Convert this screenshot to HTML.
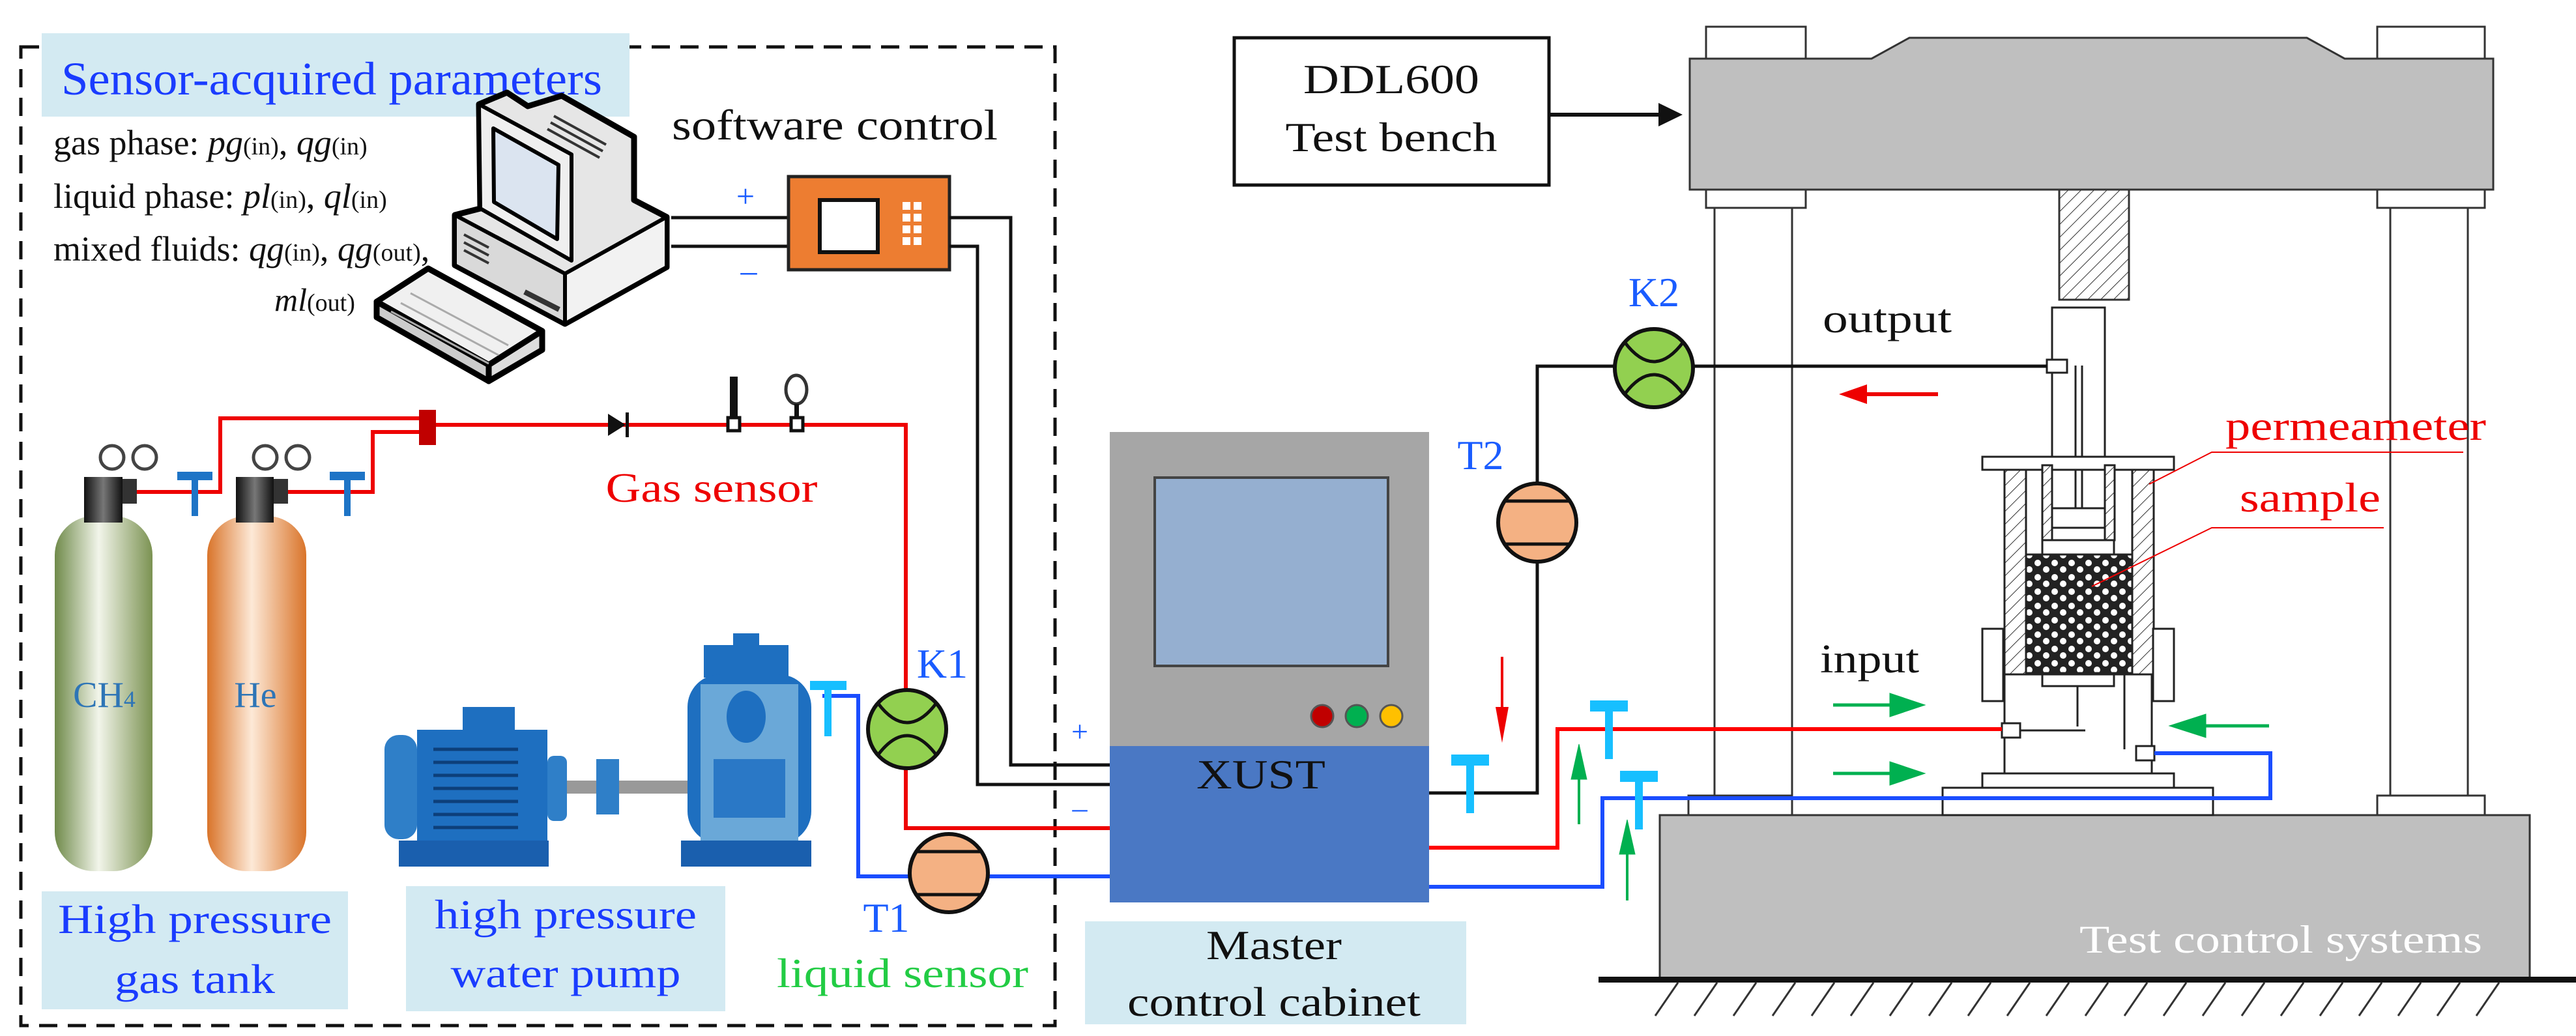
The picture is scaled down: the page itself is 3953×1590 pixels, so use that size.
<!DOCTYPE html>
<html><head><meta charset="utf-8"><style>html,body{margin:0;padding:0;background:#fff}svg{display:block}text{font-family:"Liberation Serif","Times New Roman",serif}</style></head><body>
<svg width="3953" height="1590" viewBox="0 0 3953 1590" xmlns="http://www.w3.org/2000/svg">
<defs>
<linearGradient id="gG" x1="0" x2="1"><stop offset="0" stop-color="#6f8a4a"/><stop offset="0.45" stop-color="#f2f5ea"/><stop offset="1" stop-color="#7b9252"/></linearGradient>
<linearGradient id="gO" x1="0" x2="1"><stop offset="0" stop-color="#d9742a"/><stop offset="0.45" stop-color="#fde9d7"/><stop offset="1" stop-color="#d9742a"/></linearGradient>
<linearGradient id="gN" x1="0" x2="1"><stop offset="0" stop-color="#111"/><stop offset="0.5" stop-color="#777"/><stop offset="1" stop-color="#111"/></linearGradient>
<pattern id="hat" width="14" height="14" patternUnits="userSpaceOnUse" patternTransform="rotate(45)"><rect width="14" height="14" fill="#fff"/><line x1="0" y1="0" x2="0" y2="14" stroke="#333" stroke-width="2"/></pattern>
<pattern id="smp" width="26" height="22" patternUnits="userSpaceOnUse"><rect width="26" height="22" fill="#222"/><circle cx="7" cy="6" r="5" fill="#fff"/><circle cx="20" cy="16" r="5" fill="#fff"/></pattern>
<g id="kmeter"><circle r="60" fill="#92d050" stroke="#111" stroke-width="6"/><path d="M-45,-40 Q0,20 45,-40 M-45,40 Q0,-20 45,40" fill="none" stroke="#111" stroke-width="5"/></g>
<g id="tmeter"><circle r="60" fill="#f4b183" stroke="#111" stroke-width="6"/><path d="M-50,-33 H50 M-50,33 H50" stroke="#111" stroke-width="5"/></g>
</defs>

<rect x="32" y="72" width="1587" height="1502" fill="none" stroke="#111" stroke-width="5" stroke-dasharray="28,16"/>

<rect x="64" y="51" width="902" height="128" fill="#d3eaf2"/>
<rect x="64" y="1368" width="470" height="181" fill="#d3eaf2"/>
<rect x="623" y="1360" width="490" height="192" fill="#d3eaf2"/>
<rect x="1665" y="1414" width="585" height="158" fill="#d3eaf2"/>

<text x="94" y="145" font-size="72" fill="#1a3cff" textLength="830" lengthAdjust="spacingAndGlyphs">Sensor-acquired parameters</text>
<text x="82" y="237" font-size="54" fill="#111">gas phase: <tspan font-style="italic">pg</tspan><tspan font-size="38">(in)</tspan>, <tspan font-style="italic">qg</tspan><tspan font-size="38">(in)</tspan></text>
<text x="82" y="319" font-size="54" fill="#111">liquid phase: <tspan font-style="italic">pl</tspan><tspan font-size="38">(in)</tspan>, <tspan font-style="italic">ql</tspan><tspan font-size="38">(in)</tspan></text>
<text x="82" y="400" font-size="54" fill="#111">mixed fluids: <tspan font-style="italic">qg</tspan><tspan font-size="38">(in)</tspan>, <tspan font-style="italic">qg</tspan><tspan font-size="38">(out)</tspan>,</text>
<text x="421" y="477" font-size="50" fill="#111"><tspan font-style="italic">ml</tspan><tspan font-size="38">(out)</tspan></text>
<text x="1031" y="214" font-size="66" fill="#111" textLength="500" lengthAdjust="spacingAndGlyphs">software control</text>

<!-- computer -->
<g stroke="#000" stroke-width="9" stroke-linejoin="round">
<polygon points="735,160 778,142 810,163 862,147 973,210 973,307 1023,333 1023,410 867,497 698,407 698,330 737,320" fill="#e6e6e6"/>
<polygon points="698,330 867,420 867,497 698,407" fill="#d9d9d9" stroke-width="6"/>
<polygon points="867,420 1023,333 1023,410 867,497" fill="#f2f2f2" stroke-width="6"/>
<polygon points="735,160 877,237 877,400 737,320" fill="#efefef" stroke-width="6"/>
<polygon points="757,197 857,253 855,367 758,310" fill="#dbe4f0" stroke-width="6"/>
<polygon points="578,463 657,412 832,508 750,560" fill="#f0f0f0"/>
<polygon points="578,463 750,560 750,585 578,487" fill="#ccc"/>
<polygon points="750,560 832,508 832,537 750,585" fill="#ddd"/>
</g>
<g stroke="#333" stroke-width="4"><line x1="850" y1="178" x2="930" y2="222"/><line x1="845" y1="188" x2="925" y2="232"/><line x1="840" y1="198" x2="920" y2="242"/><line x1="712" y1="360" x2="750" y2="380"/><line x1="712" y1="372" x2="750" y2="392"/><line x1="712" y1="384" x2="750" y2="404"/><line x1="805" y1="448" x2="858" y2="475" stroke-width="8"/></g>
<g stroke="#aaa" stroke-width="3"><line x1="630" y1="450" x2="780" y2="530"/><line x1="615" y1="465" x2="765" y2="545"/><line x1="600" y1="478" x2="750" y2="558"/></g>

<path d="M1030,334 H1210 M1030,378 H1210" stroke="#111" stroke-width="5" fill="none"/>
<rect x="1210" y="271" width="247" height="143" fill="#ed7d31" stroke="#222" stroke-width="5"/>
<rect x="1258" y="307" width="89" height="80" fill="#fff" stroke="#111" stroke-width="6"/>
<g fill="#fff"><rect x="1385" y="310" width="12" height="12"/><rect x="1402" y="310" width="12" height="12"/><rect x="1385" y="328" width="12" height="12"/><rect x="1402" y="328" width="12" height="12"/><rect x="1385" y="346" width="12" height="12"/><rect x="1402" y="346" width="12" height="12"/><rect x="1385" y="364" width="12" height="12"/><rect x="1402" y="364" width="12" height="12"/></g>
<text x="1144" y="318" font-size="50" fill="#1a5cff" text-anchor="middle">+</text>
<text x="1149" y="432" font-size="50" fill="#1a5cff" text-anchor="middle">–</text>
<path d="M1457,334 H1551 V1174 H1703 M1457,378 H1500 V1204 H1703" stroke="#111" stroke-width="5" fill="none"/>
<text x="1657" y="1138" font-size="46" fill="#1a5cff" text-anchor="middle">+</text>
<text x="1657" y="1255" font-size="46" fill="#1a5cff" text-anchor="middle">–</text>

<path d="M205,755 H338 V642 H656 M430,755 H572 V663 H656 M669,652 H1390 V1271 H1703" stroke="#e00" stroke-width="6" fill="none"/>
<rect x="643" y="629" width="26" height="54" fill="#c00000"/>
<polygon points="933,635 933,669 960,652" fill="#111"/><rect x="960" y="633" width="5" height="38" fill="#111"/>
<rect x="1120" y="578" width="12" height="66" fill="#111"/><rect x="1117" y="641" width="18" height="20" fill="#fff" stroke="#111" stroke-width="5"/>
<ellipse cx="1222" cy="598" rx="16" ry="22" fill="#fff" stroke="#333" stroke-width="5"/><rect x="1219" y="620" width="7" height="24" fill="#111"/><rect x="1214" y="641" width="18" height="20" fill="#fff" stroke="#111" stroke-width="5"/>
<text x="1092" y="770" font-size="64" fill="#e00" text-anchor="middle" textLength="325" lengthAdjust="spacingAndGlyphs">Gas sensor</text>

<rect x="84" y="792" width="150" height="545" rx="60" fill="url(#gG)"/>
<rect x="318" y="792" width="152" height="545" rx="60" fill="url(#gO)"/>
<rect x="129" y="732" width="59" height="70" fill="url(#gN)"/>
<rect x="362" y="732" width="58" height="70" fill="url(#gN)"/>
<rect x="188" y="735" width="22" height="38" fill="#333"/><rect x="420" y="735" width="22" height="38" fill="#333"/>
<g fill="none" stroke="#444" stroke-width="5"><circle cx="172" cy="702" r="18"/><circle cx="222" cy="702" r="18"/><circle cx="407" cy="702" r="18"/><circle cx="457" cy="702" r="18"/></g>
<g fill="#1e74c6"><rect x="272" y="724" width="54" height="13"/><rect x="294" y="724" width="10" height="68"/><rect x="506" y="724" width="54" height="13"/><rect x="528" y="724" width="10" height="68"/></g>
<text x="160" y="1085" font-size="56" fill="#2e75b6" text-anchor="middle">CH<tspan font-size="36">4</tspan></text>
<text x="392" y="1085" font-size="56" fill="#2e75b6" text-anchor="middle">He</text>
<text x="299" y="1432" font-size="64" fill="#1a3cff" text-anchor="middle" textLength="420" lengthAdjust="spacingAndGlyphs">High pressure</text>
<text x="299" y="1524" font-size="64" fill="#1a3cff" text-anchor="middle" textLength="246" lengthAdjust="spacingAndGlyphs">gas tank</text>

<rect x="590" y="1128" width="50" height="160" rx="22" fill="#2f7fc8"/>
<rect x="640" y="1120" width="200" height="175" fill="#1e6fc0"/>
<g stroke="#0d3f7a" stroke-width="5"><line x1="665" y1="1150" x2="795" y2="1150"/><line x1="665" y1="1170" x2="795" y2="1170"/><line x1="665" y1="1190" x2="795" y2="1190"/><line x1="665" y1="1210" x2="795" y2="1210"/><line x1="665" y1="1230" x2="795" y2="1230"/><line x1="665" y1="1250" x2="795" y2="1250"/><line x1="665" y1="1270" x2="795" y2="1270"/></g>
<rect x="710" y="1085" width="80" height="40" fill="#1e6fc0"/>
<rect x="612" y="1290" width="230" height="40" fill="#1a5fae"/>
<rect x="840" y="1160" width="30" height="100" rx="10" fill="#2f7fc8"/>
<rect x="870" y="1198" width="190" height="20" fill="#999"/>
<rect x="915" y="1165" width="35" height="85" fill="#2f7fc8"/>
<rect x="1125" y="972" width="40" height="30" fill="#1e6fc0"/>
<rect x="1080" y="990" width="130" height="50" fill="#1e6fc0"/>
<rect x="1055" y="1035" width="190" height="260" rx="50" fill="#1e6fc0"/>
<rect x="1075" y="1050" width="150" height="245" fill="#6aa8d8"/>
<ellipse cx="1145" cy="1100" rx="30" ry="40" fill="#1e6fc0"/>
<rect x="1095" y="1165" width="110" height="90" fill="#2a78c6"/>
<rect x="1045" y="1290" width="200" height="40" fill="#1a5fae"/>
<text x="868" y="1425" font-size="64" fill="#1a3cff" text-anchor="middle" textLength="402" lengthAdjust="spacingAndGlyphs">high pressure</text>
<text x="868" y="1515" font-size="64" fill="#1a3cff" text-anchor="middle" textLength="353" lengthAdjust="spacingAndGlyphs">water pump</text>

<path d="M1262,1068 H1317 V1345 H1703" stroke="#1a4dff" stroke-width="6" fill="none"/>
<rect x="1243" y="1045" width="56" height="14" fill="#17bfff"/><rect x="1265" y="1045" width="11" height="85" fill="#17bfff"/>
<use href="#kmeter" x="1392" y="1119"/>
<use href="#tmeter" x="1456" y="1340"/>
<text x="1446" y="1040" font-size="64" fill="#1a5cff" text-anchor="middle">K1</text>
<text x="1360" y="1430" font-size="64" fill="#1a5cff" text-anchor="middle">T1</text>
<text x="1385" y="1515" font-size="64" fill="#22cc44" text-anchor="middle" textLength="386" lengthAdjust="spacingAndGlyphs">liquid sensor</text>

<rect x="1703" y="663" width="490" height="482" fill="#a6a6a6"/>
<rect x="1703" y="1145" width="490" height="240" fill="#4a78c4"/>
<rect x="1772" y="733" width="358" height="289" fill="#95afd0" stroke="#444" stroke-width="4"/>
<circle cx="2029" cy="1099" r="17" fill="#c00000" stroke="#555" stroke-width="3"/>
<circle cx="2082" cy="1099" r="17" fill="#00b050" stroke="#555" stroke-width="3"/>
<circle cx="2135" cy="1099" r="17" fill="#ffc000" stroke="#555" stroke-width="3"/>
<text x="1935" y="1210" font-size="64" fill="#111" text-anchor="middle" textLength="198" lengthAdjust="spacingAndGlyphs">XUST</text>
<text x="1955" y="1472" font-size="64" fill="#111" text-anchor="middle" textLength="208" lengthAdjust="spacingAndGlyphs">Master</text>
<text x="1955" y="1559" font-size="64" fill="#111" text-anchor="middle" textLength="450" lengthAdjust="spacingAndGlyphs">control cabinet</text>

<rect x="1894" y="58" width="483" height="226" fill="#fff" stroke="#111" stroke-width="5"/>
<text x="2135" y="143" font-size="64" fill="#111" text-anchor="middle" textLength="270" lengthAdjust="spacingAndGlyphs">DDL600</text>
<text x="2135" y="232" font-size="64" fill="#111" text-anchor="middle" textLength="325" lengthAdjust="spacingAndGlyphs">Test bench</text>
<path d="M2377,176 H2550" stroke="#111" stroke-width="6"/><polygon points="2545,158 2582,176 2545,194" fill="#111"/>

<g stroke="#333" stroke-width="3">
<rect x="2631" y="291" width="119" height="960" fill="#fff"/>
<rect x="3668" y="291" width="119" height="960" fill="#fff"/>
<rect x="2618" y="41" width="153" height="50" fill="#fff"/>
<rect x="3648" y="41" width="165" height="50" fill="#fff"/>
<rect x="2618" y="291" width="153" height="28" fill="#fff"/>
<rect x="3648" y="291" width="165" height="28" fill="#fff"/>
<rect x="2591" y="1221" width="159" height="30" fill="#fff"/>
<rect x="3648" y="1221" width="165" height="30" fill="#fff"/>
<path d="M2593,291 V90 H2872 L2930,58 H3540 L3598,90 H3826 V291 Z" fill="#bfbfbf"/>
<rect x="3160" y="291" width="107" height="169" fill="url(#hat)"/>
<rect x="2547" y="1251" width="1335" height="250" fill="#bfbfbf"/>
</g>
<rect x="2453" y="1499" width="1500" height="9" fill="#111"/>
<g stroke="#333" stroke-width="3">
<path d="M2540,1559 L2575,1508 M2600,1559 L2635,1508 M2660,1559 L2695,1508 M2720,1559 L2755,1508 M2780,1559 L2815,1508 M2840,1559 L2875,1508 M2900,1559 L2935,1508 M2960,1559 L2995,1508 M3020,1559 L3055,1508 M3080,1559 L3115,1508 M3140,1559 L3175,1508 M3200,1559 L3235,1508 M3260,1559 L3295,1508 M3320,1559 L3355,1508 M3380,1559 L3415,1508 M3440,1559 L3475,1508 M3500,1559 L3535,1508 M3560,1559 L3595,1508 M3620,1559 L3655,1508 M3680,1559 L3715,1508 M3740,1559 L3775,1508 M3800,1559 L3835,1508"/>
</g>
<text x="3500" y="1462" font-size="60" fill="#fff" text-anchor="middle" textLength="618" lengthAdjust="spacingAndGlyphs">Test control systems</text>

<g stroke="#222" stroke-width="3">
<rect x="3149" y="472" width="81" height="357" fill="#fff"/>
<line x1="3185" y1="561" x2="3185" y2="780"/><line x1="3195" y1="561" x2="3195" y2="780"/>
<rect x="3042" y="701" width="294" height="20" fill="#fff"/>
<rect x="3076" y="721" width="33" height="314" fill="url(#hat)"/>
<rect x="3272" y="721" width="33" height="314" fill="url(#hat)"/>
<rect x="3134" y="714" width="15" height="115" fill="url(#hat)"/>
<rect x="3230" y="714" width="15" height="115" fill="url(#hat)"/>
<rect x="3149" y="780" width="81" height="30" fill="#fff"/>
<rect x="3134" y="829" width="110" height="22" fill="#fff"/>
<rect x="3109" y="851" width="163" height="182" fill="url(#smp)"/>
<rect x="3134" y="1033" width="110" height="20" fill="#fff"/>
<rect x="3042" y="965" width="32" height="111" fill="#fff"/>
<rect x="3304" y="965" width="32" height="111" fill="#fff"/>
<path d="M3076,1035 V1187 M3302,1035 V1187 M3076,1035 H3302" fill="none"/>
<line x1="3188" y1="1053" x2="3188" y2="1115"/><line x1="3260" y1="1035" x2="3260" y2="1150"/>
<rect x="3042" y="1187" width="294" height="22" fill="#fff"/>
<rect x="2981" y="1209" width="415" height="42" fill="#fff"/>
<rect x="3141" y="552" width="31" height="20" fill="#fff"/>
<rect x="3072" y="1110" width="28" height="22" fill="#fff"/>
<line x1="3100" y1="1121" x2="3200" y2="1121"/>
<rect x="3278" y="1145" width="28" height="22" fill="#fff"/>
</g>
<path d="M3298,743 L3394,694 H3780 M3210,900 L3394,810 H3658" stroke="#e00" stroke-width="2" fill="none"/>
<text x="3615" y="675" font-size="64" fill="#e00" text-anchor="middle" textLength="400" lengthAdjust="spacingAndGlyphs">permeameter</text>
<text x="3545" y="785" font-size="64" fill="#e00" text-anchor="middle" textLength="216" lengthAdjust="spacingAndGlyphs">sample</text>

<path d="M3141,562 H2359 V1217 H2193" stroke="#111" stroke-width="5" fill="none"/>
<use href="#kmeter" x="2538" y="565"/>
<use href="#tmeter" x="2359" y="802"/>
<text x="2538" y="470" font-size="64" fill="#1a5cff" text-anchor="middle">K2</text>
<text x="2272" y="720" font-size="64" fill="#1a5cff" text-anchor="middle">T2</text>
<text x="2896" y="510" font-size="62" fill="#111" text-anchor="middle" textLength="198" lengthAdjust="spacingAndGlyphs">output</text>
<path d="M2974,605 H2860" stroke="#e00" stroke-width="6"/><polygon points="2865,590 2822,605 2865,620" fill="#e00"/>
<path d="M2305,1008 V1110" stroke="#e00" stroke-width="4"/><polygon points="2295,1085 2315,1085 2305,1140" fill="#e00"/>

<path d="M2193,1301 H2390 V1119 H3072" stroke="#f00" stroke-width="6" fill="none"/>
<path d="M2193,1361 H2459 V1225 H3484 V1156 H3306" stroke="#1a4dff" stroke-width="6" fill="none"/>
<g fill="#17bfff">
<rect x="2227" y="1158" width="58" height="17"/><rect x="2250" y="1158" width="12" height="90"/>
<rect x="2440" y="1075" width="58" height="17"/><rect x="2463" y="1075" width="12" height="90"/>
<rect x="2486" y="1183" width="58" height="17"/><rect x="2509" y="1183" width="12" height="90"/>
</g>
<g fill="#00b050" stroke="#00b050">
<line x1="2423" y1="1265" x2="2423" y2="1185" stroke-width="4"/><polygon points="2411,1196 2435,1196 2423,1142"/>
<line x1="2497" y1="1382" x2="2497" y2="1300" stroke-width="4"/><polygon points="2485,1311 2509,1311 2497,1258"/>
<line x1="2813" y1="1082" x2="2910" y2="1082" stroke-width="5"/><polygon points="2900,1064 2954,1082 2900,1100"/>
<line x1="2813" y1="1187" x2="2910" y2="1187" stroke-width="5"/><polygon points="2900,1169 2954,1187 2900,1205"/>
<line x1="3482" y1="1114" x2="3380" y2="1114" stroke-width="5"/><polygon points="3385,1096 3329,1114 3385,1132"/>
</g>
<text x="2869" y="1032" font-size="62" fill="#111" text-anchor="middle" textLength="152" lengthAdjust="spacingAndGlyphs">input</text>
</svg>
</body></html>
